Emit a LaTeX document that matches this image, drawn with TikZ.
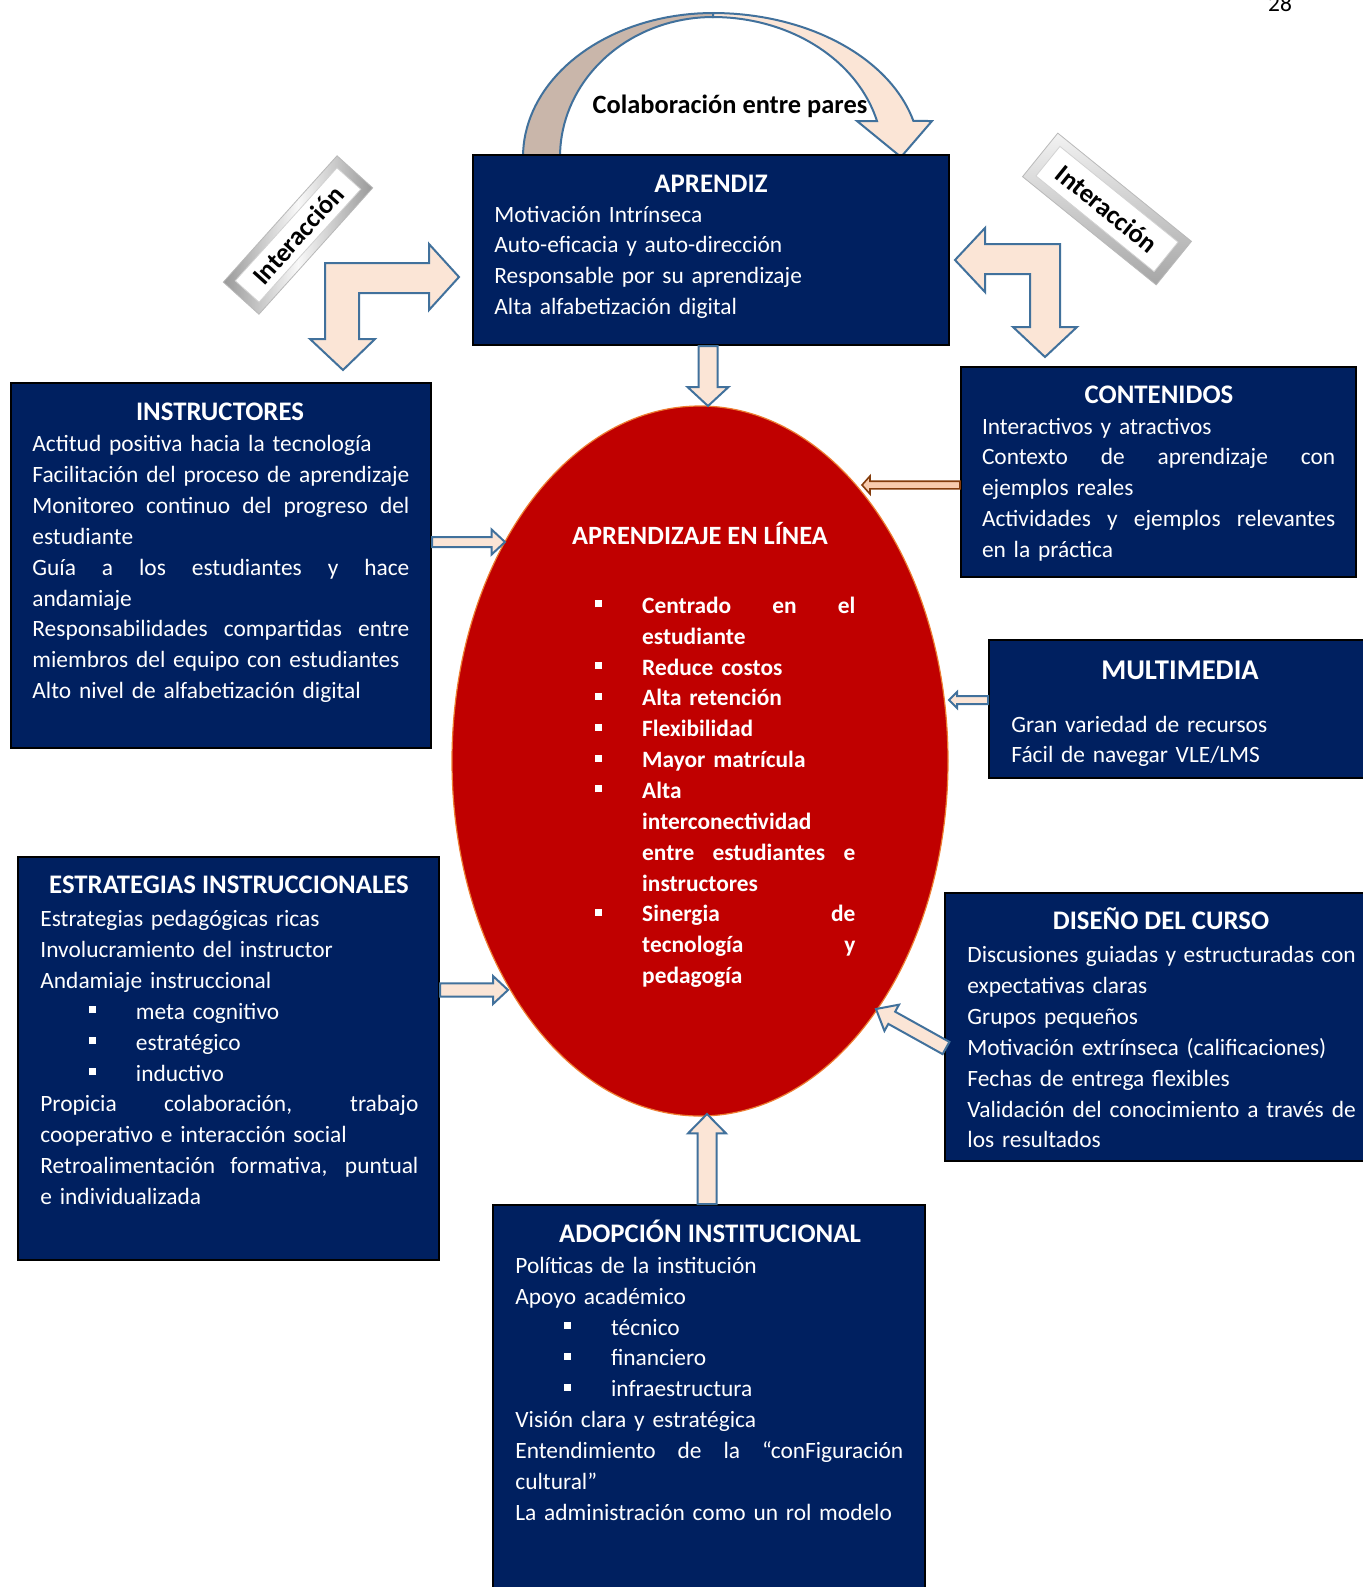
\documentclass[tikz,border=0pt]{standalone}
\usepackage{fontspec}
\setmainfont{Carlito}
\usetikzlibrary{calc, fit, shapes.geometric}

\definecolor{navy}{RGB}{0,32,96}
\definecolor{darkred}{RGB}{192,0,0}
\definecolor{peach}{RGB}{251,229,214}
\definecolor{tanback}{RGB}{201,182,170}
\definecolor{steel}{RGB}{65,113,156}
\definecolor{rust}{RGB}{132,60,12}
\definecolor{rose}{RGB}{248,203,173}
\definecolor{rim}{RGB}{237,125,49}

% one line of a box: ragged or stretched to the column width \boxw
\def\boxw{100pt}
\newcommand{\rline}[1]{\hbox to\boxw{#1\hfill}}
\newcommand{\jline}[1]{\hbox to\boxw{\spaceskip=0.226em plus 1fil minus 0.14em\xspaceskip=\spaceskip #1}}
\newcommand{\bsq}{\rule[3pt]{3.5pt}{3.5pt}}
\newcommand{\bpt}{\makebox[23.4pt][l]{\bsq}}
\newcommand{\indt}{\hspace*{23.4pt}}
\newcommand{\subpt}[1]{\rline{\hspace*{24.5pt}\makebox[23.3pt][l]{\bsq}#1}}

% block arrow: [style]{from}{to}{half shaft}{half head}{head length}
\newcommand{\blockarrow}[6][]{%
  \draw[barrow,#1] ($(#2)!#4!90:(#3)$)
    -- ($(#3)!#6!(#2)!#4!-90:(#2)$)
    -- ($(#3)!#6!(#2)!#5!-90:(#2)$)
    -- (#3)
    -- ($(#3)!#6!(#2)!#5!90:(#2)$)
    -- ($(#3)!#6!(#2)!#4!90:(#2)$)
    -- ($(#2)!#4!-90:(#3)$) -- cycle;}

\begin{document}
\begin{tikzpicture}[x=0.5pt, y=-0.5pt,
    box/.style={draw=black, line width=1pt, fill=navy, inner sep=0pt},
    headtxt/.style={text=white, font=\fontsize{13.4}{16}\selectfont\bfseries, inner sep=0pt, anchor=base},
    body/.style={text=white, font=\fontsize{11.7}{15.43}\selectfont, inner sep=0pt, anchor=base west},
    cw/.style={text width=#1, execute at begin node={\def\boxw{#1}}},
    barrow/.style={draw=steel, fill=peach, line width=1pt},
    bevel/.style={rectangle, draw=gray!55, inner sep=0pt},
    bevelin/.style={rectangle, fill=white, draw=gray!35, inner sep=0pt, font=\fontsize{13.2}{16}\selectfont\bfseries}]

\useasboundingbox (0,0) rectangle (1362,1587);
\fill[white] (0,0) rectangle (1362,1587);

\node[body, text=black, anchor=base] (pg) at (1280,11.5) {28};

% peer collaboration arc
\filldraw[fill=tanback, draw=steel, line width=1pt]
  plot[domain=180:270, samples=40] ({713+190*cos(\x)},{157+144*sin(\x)})
  -- plot[domain=270:180, samples=40] ({713+153*cos(\x)},{157+140*sin(\x)}) -- cycle;
\filldraw[fill=peach, draw=steel, line width=1pt, line join=miter]
  plot[domain=270:345.5, samples=40] ({713+207*cos(\x)},{157+144*sin(\x)})
  -- (932,121) -- (901,157) -- (857,121)
  -- plot[domain=345.1:270, samples=40] ({713+169.7*cos(\x)},{157+140*sin(\x)}) -- cycle;
\node[headtxt, font=\fontsize{13.2}{16}\selectfont\bfseries, text=black] (colab) at (730,113) {Colaboración entre pares};

% boxes
\node[box, fit={(473,155) (949,345)}] (apr) {};
\node[box, fit={(11,383) (431,748)}] (ins) {};
\node[box, fit={(961,367) (1356,577)}] (con) {};
\node[box, fit={(989,640) (1372,778)}] (mul) {};
\node[box, fit={(18,857) (439,1260)}] (est) {};
\node[box, fit={(945,893) (1372,1161)}] (dis) {};
\node[box, fit={(493,1205) (925,1600)}] (ado) {};
\node[ellipse, fill=darkred, draw=rim, line width=0.6pt, minimum width=248pt, minimum height=355pt, inner sep=0pt] (ell) at (700,761) {};

% interaction arrows
\draw[barrow, line join=miter] (325,263) -- (429,263) -- (429,244) -- (459,277) -- (429,310) -- (429,293)
  -- (359,293) -- (359,339) -- (375,339) -- (343,370) -- (310,339) -- (325,339) -- cycle;
\draw[barrow, line join=miter] (1060,244) -- (985,244) -- (985,228) -- (955,260) -- (985,292) -- (985,274)
  -- (1030,274) -- (1030,327) -- (1013,327) -- (1045,357) -- (1077,327) -- (1060,327) -- cycle;

\node[bevel, left color=gray!80, right color=gray!80, middle color=gray!5, minimum width=85pt, minimum height=24pt, rotate=48] (intL) at (298,235) {};
\node[bevelin, minimum width=76pt, minimum height=16pt, rotate=48] (intLt) at (intL) {Interacción};
\node[bevel, top color=gray!10, bottom color=gray!70, minimum width=86pt, minimum height=28pt, rotate=-39] (intR) at (1107,209) {};
\node[bevelin, minimum width=76pt, minimum height=19pt, rotate=-39] (intRt) at (intR) {Interacción};

% arrows into the ellipse
\coordinate (tA) at (708,406);
\coordinate (sA) at (apr.south -| tA);
\coordinate (tI) at (505,542);
\coordinate (sI) at (ins.east |- tI);
\coordinate (tC) at (862,485);
\coordinate (sC) at (con.west |- tC);
\coordinate (tM) at (949,700);
\coordinate (sM) at (mul.west |- tM);
\coordinate (tE) at (508,990);
\coordinate (sE) at (est.east |- tE);
\coordinate (tD) at (876,1009);
\coordinate (sD) at (946,1048);
\coordinate (tO) at (707,1114);
\coordinate (sO) at (ado.north -| tO);

\blockarrow{sA}{tA}{4.75pt}{10.25pt}{9.5pt}
\blockarrow{sI}{tI}{2.5pt}{6.25pt}{6.7pt}
\blockarrow[draw=rust, fill=rose, line width=0.8pt]{sC}{tC}{1.9pt}{4.5pt}{4pt}
\blockarrow{sM}{tM}{2pt}{4pt}{4pt}
\blockarrow{sE}{tE}{3.35pt}{7pt}{7.5pt}
\blockarrow{sD}{tD}{3.5pt}{7.5pt}{9pt}
\blockarrow{sO}{tO}{4.75pt}{9.5pt}{9.7pt}

% texts
\node[headtxt] (aprT) at (711,192) {APRENDIZ};
\node[body, cw=225pt] (aprB) at (494,222) {%
  \rline{Motivación Intrínseca}
  \rline{Auto-eficacia y auto-dirección}
  \rline{Responsable por su aprendizaje}
  \rline{Alta alfabetización digital}};

\node[headtxt] (insT) at (220,420) {INSTRUCTORES};
\node[body, cw=188.5pt] (insB) at (32,451.7) {%
  \rline{Actitud positiva hacia la tecnología}
  \jline{Facilitación del proceso de aprendizaje}
  \jline{Monitoreo continuo del progreso del}
  \rline{estudiante}
  \jline{Guía a los estudiantes y hace}
  \rline{andamiaje}
  \jline{Responsabilidades compartidas entre}
  \rline{miembros del equipo con estudiantes}
  \rline{Alto nivel de alfabetización digital}};

\node[headtxt] (conT) at (1159,403) {CONTENIDOS};
\node[body, cw=176.6pt] (conB) at (981.6,434) {%
  \rline{Interactivos y atractivos}
  \jline{Contexto de aprendizaje con}
  \rline{ejemplos reales}
  \jline{Actividades y ejemplos relevantes}
  \rline{en la práctica}};

\node[headtxt, font=\fontsize{14.3}{17}\selectfont\bfseries] (mulT) at (1180,679) {MULTIMEDIA};
\node[body, cw=170pt] (mulB) at (1011,732) {%
  \rline{Gran variedad de recursos}
  \rline{Fácil de navegar VLE/LMS}};

\node[headtxt] (estT) at (229,893) {ESTRATEGIAS INSTRUCCIONALES};
\node[body, cw=189pt] (estB) at (40,926.7) {%
  \rline{Estrategias pedagógicas ricas}
  \rline{Involucramiento del instructor}
  \rline{Andamiaje instruccional}
  \subpt{meta cognitivo}
  \subpt{estratégico}
  \subpt{inductivo}
  \jline{Propicia colaboración, trabajo}
  \rline{cooperativo e interacción social}
  \jline{Retroalimentación formativa, puntual}
  \rline{e individualizada}};

\node[headtxt] (disT) at (1161,929) {DISEÑO DEL CURSO};
\node[body, cw=194.2pt] (disB) at (967,962.7) {%
  \jline{Discusiones guiadas y estructuradas con}
  \rline{expectativas claras}
  \rline{Grupos pequeños}
  \rline{Motivación extrínseca (calificaciones)}
  \rline{Fechas de entrega flexibles}
  \jline{Validación del conocimiento a través de}
  \rline{los resultados}};

\node[headtxt] (adoT) at (710,1242) {ADOPCIÓN INSTITUCIONAL};
\node[body, cw=194pt] (adoB) at (515,1273.3) {%
  \rline{Políticas de la institución}
  \rline{Apoyo académico}
  \subpt{técnico}
  \subpt{financiero}
  \subpt{infraestructura}
  \rline{Visión clara y estratégica}
  \jline{Entendimiento de la “conFiguración}
  \rline{cultural”}
  \rline{La administración como un rol modelo}};

\node[headtxt, font=\fontsize{13.2}{16}\selectfont\bfseries] (ellT) at (700,544) {APRENDIZAJE EN LÍNEA};
\node[body, font=\fontsize{11.7}{15.43}\selectfont\bfseries, cw=130pt] (ellB) at (595,613.3) {%
  \jline{\bpt Centrado en el}
  \rline{\indt estudiante}
  \rline{\bpt Reduce costos}
  \rline{\bpt Alta retención}
  \rline{\bpt Flexibilidad}
  \rline{\bpt Mayor matrícula}
  \rline{\bpt Alta}
  \rline{\indt interconectividad}
  \jline{\indt entre estudiantes e}
  \rline{\indt instructores}
  \jline{\bpt Sinergia de}
  \jline{\indt tecnología y}
  \rline{\indt pedagogía}};

\end{tikzpicture}
\end{document}
